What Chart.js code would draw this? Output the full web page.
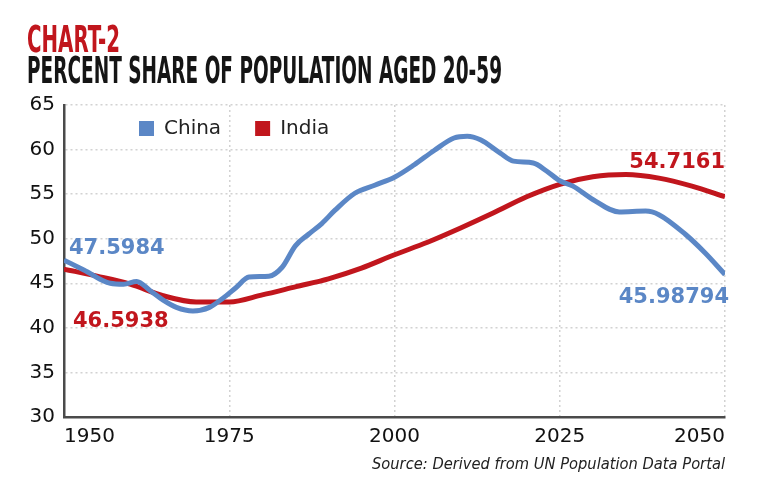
<!DOCTYPE html>
<html>
<head>
<meta charset="utf-8">
<script src="https://cdn.jsdelivr.net/npm/chart.js@4/dist/chart.umd.min.js"></script>
<style>
  html, body { margin: 0; padding: 0; background: #fff; }
  #wrap { width: 759px; height: 495px; }
</style>
</head>
<body>
<div id="wrap"><canvas id="popChart" width="759" height="495"></canvas></div>
<script>
// values
const chinaYears = [1950, 1953, 1957, 1959, 1961, 1963, 1965, 1967, 1969.5, 1972, 1974, 1976, 1978, 1981,
  1983, 1985, 1987, 1989, 1991, 1994, 1997, 2000, 2003, 2006, 2009, 2011, 2013, 2016, 2018, 2021, 2023,
  2025, 2027, 2030, 2034, 2038, 2040, 2044, 2047, 2050];
const chinaShare = [47.5984, 46.5, 45.0, 44.9, 45.2, 44.2, 43.1, 42.3, 41.9, 42.3, 43.3, 44.5, 45.7, 45.8,
  46.8, 49.2, 50.5, 51.7, 53.2, 55.1, 56.0, 56.9, 58.3, 59.9, 61.3, 61.5, 61.1, 59.6, 58.7, 58.5, 57.6,
  56.5, 55.9, 54.4, 53.0, 53.1, 52.7, 50.5, 48.4, 45.98794];

const indiaYears = [1950, 1955, 1960, 1965, 1970, 1975, 1980, 1985, 1990, 1995, 2000, 2005, 2010, 2015,
  2020, 2025, 2030, 2035, 2040, 2045, 2050];
const indiaShare = [46.5938, 45.8, 44.9, 43.6, 42.9, 42.9, 43.7, 44.6, 45.5, 46.7, 48.2, 49.6, 51.2, 52.9,
  54.7, 56.1, 56.95, 57.2, 56.8, 55.9, 54.7161];

const seriesNames = ['China', 'India'];
const xTicks = [1950, 1975, 2000, 2025, 2050];
const yTicks = [30, 35, 40, 45, 50, 55, 60, 65];

const BLUE = '#5b87c6';
const RED = '#c1161d';

function pts(xs, ys) { return xs.map((x, i) => ({ x: x, y: ys[i] })); }

const headerPlugin = {
  id: 'header',
  afterDraw(chart) {
    const ctx = chart.ctx;
    const fit = (text, x, base, w, color, font) => {
      ctx.save();
      ctx.font = font;
      ctx.fillStyle = color;
      ctx.textBaseline = 'alphabetic';
      const m = ctx.measureText(text).width;
      ctx.translate(x, base);
      ctx.scale(w / m, 1);
      ctx.fillText(text, 0, 0);
      ctx.restore();
    };
    fit('CHART-2', 27, 52, 93, RED, 'bold 37px "DejaVu Sans Condensed", "DejaVu Sans"');
    fit('PERCENT SHARE OF POPULATION AGED 20-59', 27, 83, 475, '#151515', 'bold 37px "DejaVu Sans Condensed", "DejaVu Sans"');
    ctx.save();
    ctx.font = 'italic 15px "DejaVu Sans"';
    ctx.fillStyle = '#222';
    ctx.textAlign = 'right';
    ctx.textBaseline = 'alphabetic';
    const src = 'Source: Derived from UN Population Data Portal';
    const m = ctx.measureText(src).width;
    ctx.translate(725, 469);
    ctx.scale(353 / m, 1);
    ctx.fillText(src, 0, 0);
    ctx.restore();
  }
};

const endLabels = {
  id: 'endLabels',
  afterDatasetsDraw(chart) {
    const ctx = chart.ctx;
    const put = (di, idx, dx, dy, align, color) => {
      const p = chart.getDatasetMeta(di).data[idx];
      const v = chart.data.datasets[di].data[idx].y;
      ctx.save();
      ctx.font = 'bold 21px "DejaVu Sans"';
      ctx.fillStyle = color;
      ctx.textAlign = align;
      ctx.textBaseline = 'middle';
      ctx.fillText(String(v), p.x + dx, p.y + dy);
      ctx.restore();
    };
    const c = chinaShare.length - 1, n = indiaShare.length - 1;
    put(0, 0, 5, -12, 'left', BLUE);
    put(1, 0, 9, 52, 'left', RED);
    put(1, n, 0, -34, 'right', RED);
    put(0, c, 4, 23, 'right', BLUE);
  }
};

// the legend takes no layout room; it is moved inside the plot area
const legendMove = {
  id: 'legendMove',
  afterUpdate(chart) {
    const lg = chart.legend;
    const pad = lg.options.labels.padding;
    lg.left = 139 - pad;
    lg.right = chart.chartArea.right;
    lg.top = 118.5 - pad;
    lg.bottom = lg.top + 70;
    lg.width = lg.right - lg.left;
    lg.height = lg.bottom - lg.top;
  }
};

new Chart(document.getElementById('popChart').getContext('2d'), {
  type: 'line',
  data: {
    datasets: [
      { label: seriesNames[0], data: pts(chinaYears, chinaShare), borderColor: BLUE, backgroundColor: BLUE,
        borderWidth: 5, pointRadius: 0, tension: 0.4, cubicInterpolationMode: 'monotone' },
      { label: seriesNames[1], data: pts(indiaYears, indiaShare), borderColor: RED, backgroundColor: RED,
        borderWidth: 5, pointRadius: 0, tension: 0.4, cubicInterpolationMode: 'monotone' }
    ]
  },
  options: {
    responsive: false,
    animation: false,
    layout: { padding: { left: 0, top: 105, right: 34, bottom: 38 } },
    plugins: {
      title: { display: false },
      tooltip: { enabled: false },
      legend: {
        position: 'top',
        align: 'start',
        maxHeight: 0.001,
        labels: {
          boxWidth: 15,
          boxHeight: 15,
          padding: 34,
          color: '#222',
          font: { family: '"DejaVu Sans"', size: 20 },
          generateLabels: (chart) => Chart.defaults.plugins.legend.labels.generateLabels(chart)
            .map(l => Object.assign(l, { lineWidth: 0 }))
        }
      }
    },
    scales: {
      x: {
        type: 'linear',
        min: xTicks[0],
        max: xTicks[xTicks.length - 1],
        afterBuildTicks: (s) => { s.ticks = xTicks.map(v => ({ value: v })); },
        afterFit: (s) => { s.height = 40; },
        ticks: {
          align: 'inner',
          padding: 8,
          color: '#111',
          font: { family: '"DejaVu Sans"', size: 20 },
          callback: (v) => String(v)
        },
        grid: { color: '#d2d2d2', lineWidth: 1.5, drawTicks: false },
        border: { display: true, color: '#4a4a4a', width: 2.5, dash: [2, 3] }
      },
      y: {
        min: yTicks[0],
        max: yTicks[yTicks.length - 1],
        afterBuildTicks: (s) => { s.ticks = yTicks.map(v => ({ value: v })); },
        afterFit: (s) => { s.width = 64; },
        ticks: {
          padding: 9,
          color: '#111',
          font: { family: '"DejaVu Sans"', size: 20 },
          callback: (v) => String(v)
        },
        grid: { color: '#d2d2d2', lineWidth: 1.5, drawTicks: false },
        border: { display: true, color: '#4a4a4a', width: 2.5, dash: [2, 3] }
      }
    }
  },
  plugins: [headerPlugin, endLabels, legendMove]
});
</script>
</body>
</html>
